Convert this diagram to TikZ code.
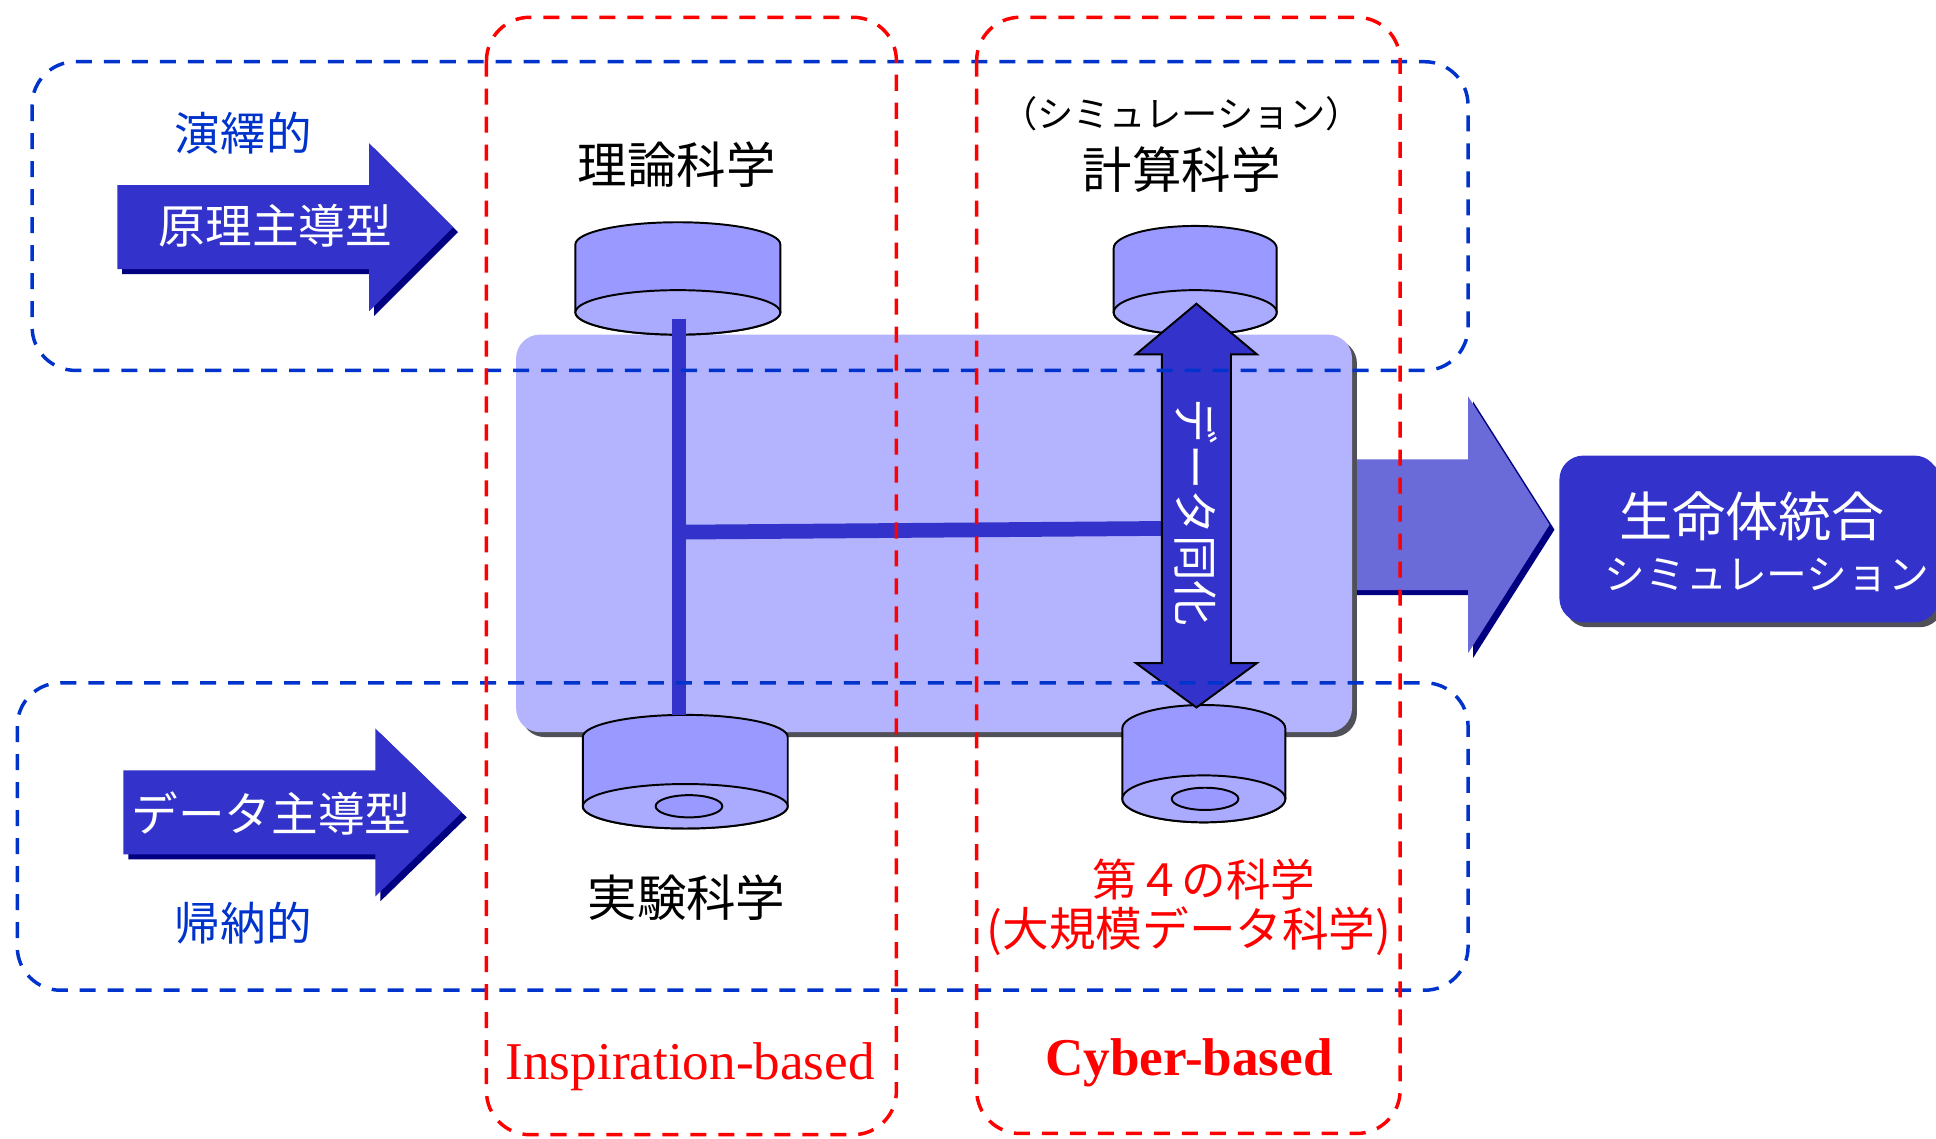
\documentclass[tikz,border=0pt]{standalone}
\usepackage{fontspec}
\setmainfont{Liberation Serif}
\newfontfamily\jpfont{Noto Sans CJK JP}
\definecolor{mainblue}{RGB}{51,51,204}
\definecolor{arrowshadow}{RGB}{0,0,128}
\definecolor{bigarrow}{RGB}{106,106,216}
\definecolor{bodyfill}{RGB}{180,180,254}
\definecolor{bodyshadow}{RGB}{80,80,88}
\definecolor{wheelside}{RGB}{153,153,255}
\definecolor{wheelface}{RGB}{170,170,255}
\definecolor{dashblue}{RGB}{0,51,204}
\tikzset{
	jp/.style={font=\jpfont\fontsize{#1}{#1}\selectfont},
	wheel/.style={fill=wheelside, draw=black, line width=0.9pt},
	face/.style={fill=wheelface, draw=black, line width=0.9pt},
}
\begin{document}
\begin{tikzpicture}[x=0.02cm, y=-0.02cm]
\useasboundingbox (0,0) rectangle (1568,922);

\foreach \c/\s in {arrowshadow/4, bigarrow/0}
	\fill[\c, shift={(\s,\s)}] (1090,372) -- (1189,372) -- (1189,321) -- (1255,425) -- (1189,529) -- (1189,478) -- (1090,478) -- cycle;

\fill[bodyshadow, rounded corners=11pt] (422,275) rectangle (1099,597);
\fill[bodyfill, rounded corners=11pt] (418,271) rectangle (1095,593);

\foreach \x/\ya/\yb/\rx/\ry in {549/198/253/83/18, 968/201/253/66/18, 555/597/653/83/18, 975/590/647/66/19}{
	\draw[wheel] (\x-\rx,\ya) arc[start angle=180, end angle=360, x radius=\rx, y radius=\ry] -- (\x+\rx,\yb) arc[start angle=0, end angle=180, x radius=\rx, y radius=\ry] -- cycle;
	\draw[face] (\x,\yb) ellipse[x radius=\rx, y radius=\ry];
}
\draw[wheel] (558,653) ellipse[x radius=27, y radius=9];
\draw[wheel] (976,647) ellipse[x radius=27, y radius=9];

\begin{scope}[mainblue, line width=6.8pt]
\coordinate (rear) at (550,258);
\draw (rear) -- (550,579);
\draw (550,431) -- (941,428);
\end{scope}

\filldraw[fill=mainblue, draw=black, line width=0.9pt] (941,287) -- (920,287) -- (969,246) -- (1018,287) -- (997,287) -- (997,537) -- (1018,537) -- (969,573) -- (920,537) -- (941,537) -- cycle;
\node[jp=21pt, white, rotate=-90] (assim) at (969,415) {データ同化};

\foreach \c/\s in {arrowshadow/4, mainblue/0}{
	\fill[\c, shift={(\s,\s)}] (95,150) -- (299,150) -- (299,116) -- (367,184) -- (299,252) -- (299,218) -- (95,218) -- cycle;
	\fill[\c, shift={(\s,\s)}] (100,624) -- (304,624) -- (304,590) -- (374,658) -- (304,726) -- (304,692) -- (100,692) -- cycle;
}

\fill[bodyshadow, rounded corners=11pt] (1267,373) rectangle (1574,508);
\fill[mainblue, rounded corners=11pt] (1263,369) rectangle (1570,504);

\begin{scope}[line width=1.6pt, rounded corners=20pt, dash pattern=on 7.4pt off 5.5pt]
\draw[dashblue] (26,50) rectangle (1189,300);
\draw[dashblue] (14,553) rectangle (1189,802);
\draw[red] (394,14) rectangle (726,919);
\draw[red] (791,14) rectangle (1134,918);
\end{scope}

\node[jp=21pt, dashblue] (deduct) at (197,108) {演繹的};
\node[jp=21.5pt, white] (principle) at (223,183) {原理主導型};
\node[jp=21.5pt, white] (datadriven) at (220,659) {データ主導型};
\node[jp=21pt, dashblue] (induct) at (197,748) {帰納的};
\node[jp=22.8pt] (theory) at (548,133) {理論科学};
\node[jp=16.7pt] (simnote) at (957,92) {（シミュレーション）};
\node[jp=22.8pt] (compute) at (957,137) {計算科学};
\node[jp=22.8pt] (experiment) at (556,727) {実験科学};
\node[jp=20.5pt, red] (fourth) at (975,712) {第４の科学};
\node[jp=21.5pt, red] (bigdata) at (963,754) {(大規模データ科学)};
\node[font=\fontsize{24.5pt}{26pt}\selectfont, red] (insp) at (559,864) {Inspiration-based};
\node[font=\bfseries\fontsize{24.5pt}{26pt}\selectfont, red] (cyber) at (963,861) {Cyber-based};
\node[jp=24.5pt, white] (life) at (1419,418) {生命体統合};
\node[jp=18.8pt, white] (lifesim) at (1431,466) {シミュレーション};
\end{tikzpicture}
\end{document}
